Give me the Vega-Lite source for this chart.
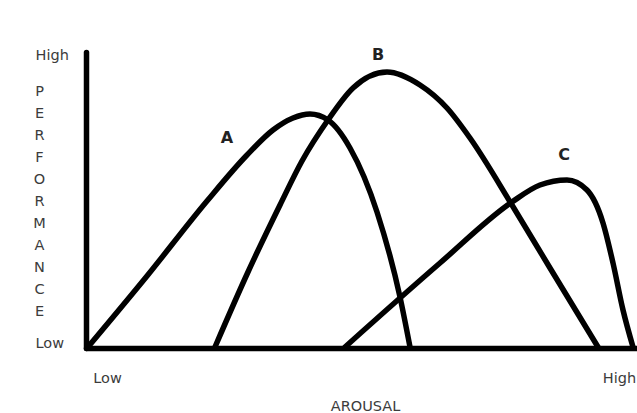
{
  "$schema": "https://vega.github.io/schema/vega-lite/v6.json",
  "width": 551,
  "height": 296,
  "autosize": {"type": "none"},
  "padding": {"left": 86, "top": 52, "right": 0, "bottom": 65},
  "background": "white",
  "config": {
    "view": {"stroke": null},
    "axis": {"grid": false, "ticks": false, "tickSize": 0, "domainColor": "black", "domainWidth": 5.5, "domainCap": "round",
             "labelFont": "DejaVu Sans", "labelFontSize": 14.5, "labelColor": "#3c3c3c",
             "titleFont": "DejaVu Sans", "titleFontSize": 14.5, "titleColor": "#3c3c3c", "titleFontWeight": "normal"}
  },
  "datasets": {
    "curves": [
      {"curve": "A", "arousal": 2, "performance": 1},
      {"curve": "A", "arousal": 61, "performance": 72},
      {"curve": "A", "arousal": 121, "performance": 147},
      {"curve": "A", "arousal": 161, "performance": 193},
      {"curve": "A", "arousal": 187, "performance": 218},
      {"curve": "A", "arousal": 207, "performance": 230},
      {"curve": "A", "arousal": 224, "performance": 234},
      {"curve": "A", "arousal": 242, "performance": 228},
      {"curve": "A", "arousal": 264, "performance": 200},
      {"curve": "A", "arousal": 291, "performance": 136},
      {"curve": "A", "arousal": 314, "performance": 51},
      {"curve": "A", "arousal": 324, "performance": 1},
      {"curve": "B", "arousal": 129, "performance": 1},
      {"curve": "B", "arousal": 162, "performance": 76},
      {"curve": "B", "arousal": 194, "performance": 143},
      {"curve": "B", "arousal": 216, "performance": 187},
      {"curve": "B", "arousal": 242, "performance": 228},
      {"curve": "B", "arousal": 267, "performance": 260},
      {"curve": "B", "arousal": 301, "performance": 276},
      {"curve": "B", "arousal": 334, "performance": 263},
      {"curve": "B", "arousal": 361, "performance": 240},
      {"curve": "B", "arousal": 384, "performance": 210},
      {"curve": "B", "arousal": 426, "performance": 143},
      {"curve": "B", "arousal": 464, "performance": 80},
      {"curve": "B", "arousal": 512, "performance": 1},
      {"curve": "C", "arousal": 259, "performance": 1},
      {"curve": "C", "arousal": 354, "performance": 85},
      {"curve": "C", "arousal": 426, "performance": 146},
      {"curve": "C", "arousal": 454, "performance": 163},
      {"curve": "C", "arousal": 481, "performance": 168},
      {"curve": "C", "arousal": 501, "performance": 158},
      {"curve": "C", "arousal": 517, "performance": 125},
      {"curve": "C", "arousal": 527, "performance": 85},
      {"curve": "C", "arousal": 537, "performance": 38},
      {"curve": "C", "arousal": 547, "performance": 1}
    ],
    "labels": [
      {"curve": "A", "arousal": 141, "performance": 210},
      {"curve": "B", "arousal": 292, "performance": 293},
      {"curve": "C", "arousal": 478, "performance": 193}
    ]
  },
  "encoding": {
    "x": {"field": "arousal", "type": "quantitative", "scale": {"domain": [0, 551], "nice": false, "zero": false},
          "axis": {"values": [21, 533], "labelExpr": "datum.value < 100 ? 'Low' : 'High'", "labelFlush": false, "labelPadding": 34, "labelBaseline": "alphabetic", "labelOverlap": false,
                   "title": "AROUSAL", "titleX": 279, "titleY": 62, "titleBaseline": "alphabetic", "titleAlign": "center", "titleAnchor": null}},
    "y": {"field": "performance", "type": "quantitative", "scale": {"domain": [0, 296], "nice": false, "zero": false},
          "axis": {"values": [289, 1], "labelExpr": "datum.value > 100 ? 'High' : 'Low'", "labelAlign": "left", "labelPadding": 51, "labelBaseline": "alphabetic", "labelFlush": false, "labelOverlap": false,
                   "title": ["P", "E", "R", "F", "O", "R", "M", "A", "N", "C", "E"], "titleAngle": 0, "titleX": -47, "titleY": 43, "titleBaseline": "alphabetic", "titleAlign": "center", "titleLineHeight": 22, "titleAnchor": null}}
  },
  "layer": [
    {
      "data": {"name": "curves"},
      "mark": {"type": "line", "interpolate": "monotone", "strokeWidth": 5.5, "color": "black", "strokeCap": "round", "strokeJoin": "round"},
      "encoding": {"detail": {"field": "curve", "type": "nominal"}}
    },
    {
      "data": {"name": "labels"},
      "mark": {"type": "text", "font": "DejaVu Sans", "fontWeight": "bold", "fontSize": 16, "color": "#222222", "baseline": "middle", "align": "center"},
      "encoding": {"text": {"field": "curve", "type": "nominal"}}
    }
  ]
}
